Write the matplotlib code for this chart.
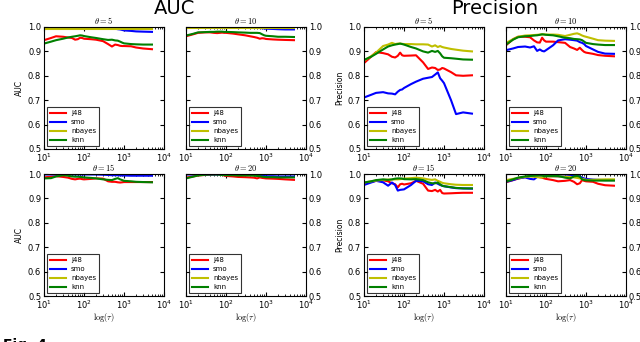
import numpy as np
import matplotlib
matplotlib.use('Agg')
import matplotlib.pyplot as plt

plt.rcParams['mathtext.fontset'] = 'cm'

tau = [10, 15, 20, 30, 40, 50, 60, 70, 80, 90, 100, 150, 200, 300, 400,
       500, 600, 700, 800, 900, 1000, 1500, 2000, 3000, 5000]
classifiers = ['j48', 'smo', 'nbayes', 'knn']
colors = ['r', 'b', 'y', 'g']
thetas = [5, 10, 15, 20]

# AUC, one list per classifier, for theta = 5, 10, 15, 20
auc_j48 = [
    [0.946, 0.955, 0.962, 0.960, 0.957, 0.955, 0.948, 0.950, 0.956, 0.955, 0.952, 0.950, 0.948,
     0.942, 0.930, 0.920, 0.928, 0.926, 0.923, 0.922, 0.922, 0.921, 0.916, 0.912, 0.909],
    [0.962, 0.970, 0.976, 0.978, 0.978, 0.976, 0.975, 0.976, 0.977, 0.976, 0.976, 0.973, 0.970,
     0.966, 0.962, 0.959, 0.956, 0.952, 0.954, 0.953, 0.951, 0.949, 0.948, 0.947, 0.946],
    [0.986, 0.989, 0.991, 0.988, 0.985, 0.980, 0.978, 0.980, 0.981, 0.979, 0.978, 0.980, 0.982,
     0.981, 0.970, 0.968, 0.968, 0.966, 0.965, 0.966, 0.967, 0.967, 0.967, 0.967, 0.967],
    [0.985, 0.990, 0.994, 0.996, 0.997, 0.998, 0.999, 0.998, 0.996, 0.994, 0.992, 0.990, 0.988,
     0.987, 0.986, 0.985, 0.982, 0.986, 0.984, 0.983, 0.982, 0.981, 0.980, 0.978, 0.976],
]
auc_smo = [
    [0.998, 0.998, 0.998, 0.998, 0.998, 0.998, 0.998, 0.998, 0.998, 0.998, 0.998, 0.998, 0.998,
     0.998, 0.997, 0.995, 0.993, 0.991, 0.990, 0.988, 0.986, 0.984, 0.982, 0.981, 0.980],
    [0.997, 0.997, 0.997, 0.997, 0.997, 0.997, 0.997, 0.997, 0.997, 0.997, 0.997, 0.997, 0.997,
     0.997, 0.997, 0.997, 0.996, 0.996, 0.995, 0.994, 0.993, 0.992, 0.991, 0.990, 0.990],
    [0.998, 0.998, 0.998, 0.998, 0.998, 0.998, 0.998, 0.998, 0.998, 0.998, 0.998, 0.998, 0.998,
     0.997, 0.996, 0.995, 0.995, 0.995, 0.994, 0.994, 0.994, 0.993, 0.993, 0.993, 0.993],
    [0.998, 0.998, 0.998, 0.998, 0.998, 0.998, 0.998, 0.998, 0.998, 0.998, 0.998, 0.998, 0.998,
     0.998, 0.997, 0.996, 0.995, 0.994, 0.993, 0.992, 0.991, 0.991, 0.990, 0.990, 0.990],
]
auc_nbayes = [
    [0.992] * 25,
    [0.997] * 25,
    [0.998] * 25,
    [0.998] * 25,
]
auc_knn = [
    [0.932, 0.940, 0.946, 0.952, 0.957, 0.960, 0.962, 0.964, 0.966, 0.965, 0.963, 0.958, 0.955,
     0.950, 0.947, 0.948, 0.945, 0.944, 0.940, 0.936, 0.933, 0.930, 0.929, 0.928, 0.928],
    [0.965, 0.972, 0.978, 0.979, 0.980, 0.980, 0.981, 0.981, 0.981, 0.980, 0.980, 0.979, 0.978,
     0.977, 0.976, 0.976, 0.976, 0.975, 0.970, 0.966, 0.964, 0.962, 0.960, 0.960, 0.959],
    [0.982, 0.983, 0.990, 0.995, 0.993, 0.990, 0.989, 0.989, 0.988, 0.987, 0.986, 0.984, 0.982,
     0.978, 0.976, 0.975, 0.980, 0.983, 0.978, 0.975, 0.972, 0.970, 0.968, 0.967, 0.966],
    [0.982, 0.989, 0.994, 0.997, 0.998, 0.998, 0.998, 0.997, 0.996, 0.996, 0.995, 0.995, 0.994,
     0.994, 0.994, 0.993, 0.992, 0.991, 0.989, 0.988, 0.987, 0.987, 0.986, 0.986, 0.986],
]

# Precision
prec_j48 = [
    [0.852, 0.878, 0.897, 0.893, 0.888, 0.878, 0.875, 0.882, 0.895, 0.884, 0.882, 0.883, 0.884,
     0.855, 0.828, 0.834, 0.832, 0.824, 0.826, 0.832, 0.830, 0.815, 0.802, 0.800, 0.802],
    [0.925, 0.950, 0.960, 0.960, 0.958, 0.945, 0.937, 0.936, 0.956, 0.945, 0.940, 0.940, 0.938,
     0.935, 0.918, 0.912, 0.906, 0.915, 0.905, 0.898, 0.895, 0.890, 0.885, 0.882, 0.880],
    [0.962, 0.968, 0.972, 0.974, 0.970, 0.962, 0.958, 0.945, 0.958, 0.960, 0.957, 0.962, 0.972,
     0.960, 0.932, 0.930, 0.935, 0.928, 0.935, 0.922, 0.920, 0.921, 0.922, 0.923, 0.923],
    [0.966, 0.975, 0.981, 0.988, 0.992, 0.991, 0.989, 0.987, 0.985, 0.982, 0.980, 0.975, 0.970,
     0.972, 0.975, 0.968, 0.958, 0.962, 0.975, 0.972, 0.970, 0.968, 0.960, 0.954, 0.952],
]
prec_smo = [
    [0.711, 0.722, 0.730, 0.733, 0.728, 0.727, 0.724, 0.735, 0.742, 0.744, 0.750, 0.766, 0.776,
     0.788, 0.792, 0.795, 0.805, 0.814, 0.790, 0.780, 0.770, 0.700, 0.643, 0.650, 0.645],
    [0.905, 0.912, 0.918, 0.920, 0.916, 0.921, 0.902, 0.908, 0.902, 0.900, 0.905, 0.925, 0.945,
     0.950, 0.948, 0.946, 0.944, 0.938, 0.935, 0.930, 0.922, 0.908, 0.898, 0.891, 0.890],
    [0.955, 0.965, 0.972, 0.966, 0.952, 0.965, 0.955, 0.932, 0.935, 0.936, 0.937, 0.955, 0.972,
     0.970, 0.958, 0.955, 0.965, 0.960, 0.955, 0.952, 0.950, 0.945, 0.942, 0.941, 0.940],
    [0.968, 0.975, 0.982, 0.986, 0.980, 0.978, 0.988, 0.990, 0.990, 0.991, 0.991, 0.991, 0.990,
     0.990, 0.992, 0.993, 0.996, 0.990, 0.985, 0.982, 0.980, 0.977, 0.976, 0.975, 0.975],
]
prec_nbayes = [
    [0.862, 0.880, 0.895, 0.922, 0.928, 0.935, 0.930, 0.932, 0.932, 0.931, 0.930, 0.930, 0.929,
     0.929, 0.928, 0.920, 0.925, 0.918, 0.922, 0.918, 0.916, 0.910, 0.907, 0.903, 0.900],
    [0.935, 0.950, 0.960, 0.965, 0.966, 0.967, 0.968, 0.969, 0.970, 0.970, 0.969, 0.969, 0.968,
     0.963, 0.968, 0.972, 0.974, 0.970, 0.965, 0.962, 0.960, 0.952, 0.946, 0.944, 0.943],
    [0.965, 0.970, 0.973, 0.976, 0.977, 0.977, 0.978, 0.978, 0.979, 0.980, 0.981, 0.983, 0.985,
     0.982, 0.978, 0.976, 0.978, 0.972, 0.968, 0.964, 0.962, 0.958, 0.956, 0.955, 0.955],
    [0.975, 0.980, 0.984, 0.988, 0.990, 0.989, 0.987, 0.986, 0.986, 0.988, 0.990, 0.990, 0.990,
     0.989, 0.988, 0.986, 0.984, 0.982, 0.980, 0.978, 0.976, 0.976, 0.977, 0.978, 0.978],
]
prec_knn = [
    [0.865, 0.878, 0.890, 0.908, 0.920, 0.925, 0.928, 0.930, 0.932, 0.930, 0.928, 0.918, 0.912,
     0.900, 0.895, 0.902, 0.898, 0.902, 0.892, 0.880, 0.874, 0.872, 0.870, 0.867, 0.866],
    [0.928, 0.948, 0.958, 0.962, 0.963, 0.965, 0.966, 0.968, 0.970, 0.969, 0.968, 0.966, 0.962,
     0.956, 0.954, 0.951, 0.950, 0.949, 0.946, 0.940, 0.935, 0.930, 0.928, 0.926, 0.926],
    [0.965, 0.970, 0.975, 0.978, 0.976, 0.978, 0.981, 0.982, 0.982, 0.981, 0.979, 0.978, 0.979,
     0.975, 0.966, 0.962, 0.962, 0.965, 0.958, 0.952, 0.950, 0.946, 0.943, 0.941, 0.941],
    [0.969, 0.978, 0.985, 0.990, 0.992, 0.993, 0.994, 0.996, 0.995, 0.990, 0.992, 0.992, 0.992,
     0.985, 0.982, 0.990, 0.992, 0.989, 0.978, 0.975, 0.974, 0.973, 0.973, 0.973, 0.973],
]

metrics = [('AUC', [auc_j48, auc_smo, auc_nbayes, auc_knn]),
           ('Precision', [prec_j48, prec_smo, prec_nbayes, prec_knn])]

fig = plt.figure(figsize=(6.4, 3.42), dpi=100)

W, H = 640.0, 342.0
col_x = [[44, 186], [364, 506]]
row_y = [[27, 149], [174, 296]]
aw = 120

for g, (mname, series) in enumerate(metrics):
    fig.text((col_x[g][0] + col_x[g][1] + aw) / 2 / W, 1 - 9 / H, mname,
             ha='center', va='center', fontsize=14)
    for k, th in enumerate(thetas):
        r, c = divmod(k, 2)
        x0 = col_x[g][c]
        y0, y1 = row_y[r]
        ax = fig.add_axes([x0 / W, 1 - y1 / H, aw / W, (y1 - y0) / H])
        for name, col, s in zip(classifiers, colors, series):
            ax.plot(tau, s[k], color=col, lw=1.5, label=name)
        ax.set_xscale('log')
        ax.set_xlim(10, 1e4)
        ax.set_ylim(0.5, 1.0)
        ax.set_yticks(np.arange(0.5, 1.01, 0.1))
        ax.set_title(r'$\theta=%d$' % th, fontsize=6, pad=2)
        ax.tick_params(which='both', direction='in', top=True, right=True,
                       labelsize=6, pad=2)
        ax.tick_params(which='major', length=3)
        ax.tick_params(which='minor', length=1.5)
        if c == 1:
            ax.tick_params(labelleft=False, labelright=True)
        else:
            ax.set_ylabel(mname, fontsize=5.5, labelpad=3)
        if r == 1:
            ax.set_xlabel(r'$\log(\tau)$', fontsize=6, labelpad=0)
        leg = ax.legend(loc='lower left', fontsize=5, handlelength=2.3,
                        borderaxespad=0.4, labelspacing=0.45, fancybox=False)
        leg.get_frame().set_edgecolor('black')
        leg.get_frame().set_linewidth(0.8)

fig.text(0.005, -0.03, 'Fig. 4.', fontsize=10, fontweight='bold', va='bottom')

fig.savefig('out.png', dpi=100)
